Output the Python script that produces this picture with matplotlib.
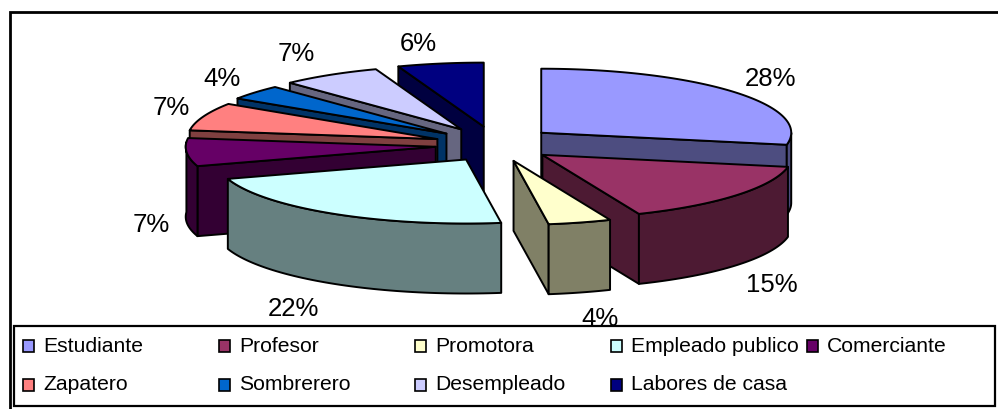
import numpy as np
import matplotlib
matplotlib.use("Agg")
import matplotlib.pyplot as plt
from matplotlib.colors import to_rgb
from matplotlib.patches import Polygon, Rectangle

categories = ["Estudiante", "Profesor", "Promotora", "Empleado publico", "Comerciante",
              "Zapatero", "Sombrerero", "Desempleado", "Labores de casa"]
values = [28, 15, 4, 22, 7, 7, 4, 7, 6]
colors = ["#9999FF", "#993366", "#FFFFCC", "#CCFFFF", "#660066",
          "#FF8080", "#0066CC", "#CCCCFF", "#000080"]

# pixel layout, y pointing down
cx, cy = 495, 144
rx, ry = 250, 64
ex, ey = 60, 17.7
depth = 70
lw = 1.4

label_pos = [(771, 79), (772, 285), (600, 319), (293, 309), (151, 225),
             (171, 108), (222, 79), (296, 54), (418, 44)]
draw_order = [8, 7, 6, 5, 4, 3, 0, 1, 2]

plt.rcParams['font.family'] = ['Liberation Sans', 'DejaVu Sans']
fig = plt.figure(figsize=(9.98, 4.09), dpi=100)
ax = fig.add_axes([0, 0, 1, 1])
ax.set_xlim(0, 998)
ax.set_ylim(409, 0)
ax.axis('off')

# the outer frame runs off the right and bottom of the picture
ax.add_patch(Rectangle((10, 12), 1000, 410, fc='white', ec='black', lw=2))

ends = np.cumsum(values) / np.sum(values) * 2 * np.pi
starts = np.r_[0, ends[:-1]]


def view(a):
    # the 3d view of the original pulls the rim round a little on the lower left
    return a + np.radians(np.interp(np.degrees(a), [0, 100, 155, 250, 300, 340, 360],
                                    [0, 0, 2.5, 4, 4.5, 1.5, 0]))


def rim(a, ox, oy):
    a = view(a)
    return np.c_[ox + rx * np.sin(a), oy - ry * np.cos(a)]


def face(pts, col, z):
    ax.add_patch(Polygon(pts, closed=True, fc=col, ec='black', lw=lw, joinstyle='round', zorder=z))


for n, i in enumerate(draw_order):
    a0, a1 = starts[i], ends[i]
    mid = (a0 + a1) / 2
    ox = cx + ex * np.sin(mid)
    oy = cy - ey * np.cos(mid)
    top = np.array(to_rgb(colors[i]))
    side = tuple(top * 0.5)
    z = 2 + n
    down = np.array([0, depth])
    apex = np.array([ox, oy])
    # cut faces that face the viewer, then the front of the rim wall, then the top
    cuts = []
    if np.sin(a0) < -1e-9:
        cuts.append(a0)
    if np.sin(a1) > 1e-9:
        cuts.append(a1)
    for a in cuts:
        p = rim(np.array([a]), ox, oy)[0]
        face([apex, p, p + down, apex + down], side, z)
    w0, w1 = max(a0, np.pi / 2), min(a1, 3 * np.pi / 2)
    if w1 > w0:
        arc = rim(np.linspace(w0, w1, 60), ox, oy)
        face(np.r_[arc, arc[::-1] + down], side, z)
    arc = rim(np.linspace(a0, a1, 80), ox, oy)
    face(np.r_[[apex], arc], tuple(top), z)

for v, (x, y) in zip(values, label_pos):
    ax.text(x, y, f"{v}%", fontsize=18.5, ha='center', va='center', color='black', zorder=20)

# legend
ax.add_patch(Rectangle((14, 326), 981, 80, fc='white', ec='black', lw=1.6, zorder=30))
for i, name in enumerate(categories):
    col, row = i % 5, i // 5
    y = 346 + 39 * row
    x = 23 + 196 * col
    ax.add_patch(Rectangle((x, y - 6), 11, 12, fc=colors[i], ec='black', lw=1.2, zorder=31))
    ax.text(x + 20, y, name, fontsize=15.2, ha='left', va='center', color='black', zorder=31)

fig.savefig('out.png', dpi=100)
